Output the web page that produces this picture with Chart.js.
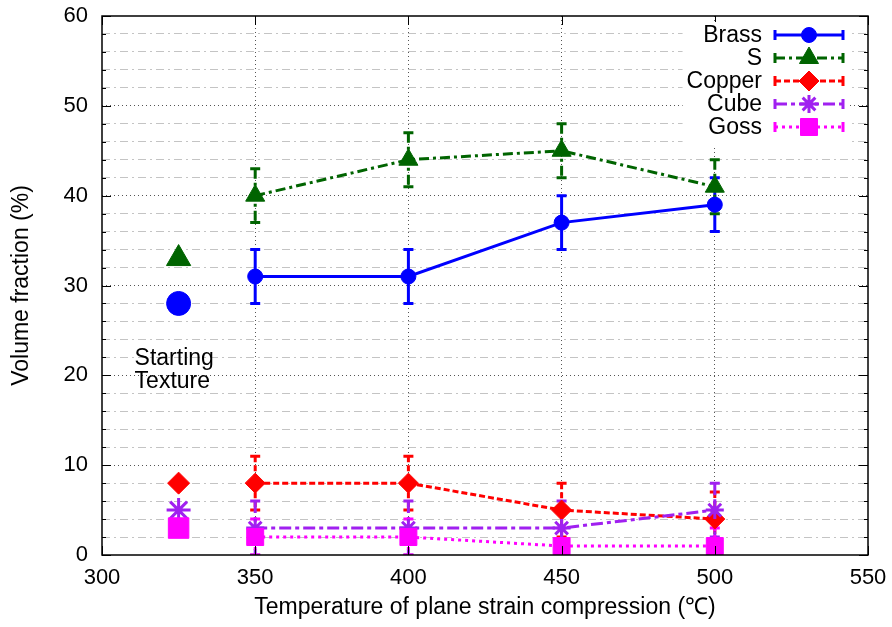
<!DOCTYPE html>
<html>
<head>
<meta charset="utf-8">
<script src="https://cdn.jsdelivr.net/npm/chart.js@4.4.1/dist/chart.umd.min.js"></script>
<style>
  html, body { margin: 0; padding: 0; background: #fff; }
</style>
</head>
<body>
<canvas id="chart" width="892" height="627"></canvas>
<script>
// --- data ---
const temps = [350, 400, 450, 500];
const startTemp = 325;
const seriesNames = ['Brass', 'S', 'Copper', 'Cube', 'Goss'];

const brass = [31, 31, 37, 39];
const sComp = [40, 44, 45, 41];
const copper = [8, 8, 5, 4];
const cube = [3, 3, 3, 5];
const goss = [2, 2, 1, 1];

const brassErr = [3, 3, 3, 3];
const sErr = [3, 3, 3, 3];
const copperErr = [3, 3, 3, 3];
const cubeErr = [3, 3, 3, 3];
const gossErr = [2, 2, 2, 2];

// starting texture, same order as seriesNames
const startValues = [28, 33, 8, 5, 3];

const xTicks = [300, 350, 400, 450, 500, 550];
const yMajorStep = 10;
const yMinorStep = 2;

// --- styles ---
const FONT = "'Liberation Sans', Arial, Helvetica, sans-serif";
const FS = 22;   // tick labels
const FT = 23;   // titles, key, note
const styles = [
    { color: '#0000ff', dash: [], point: 'circle', r: 7.5, rStart: 12, bw: 1 },
    { color: '#006400', dash: [10, 4, 3, 4], point: 'triangle', r: 11, rStart: 14, bw: 1 },
    { color: '#ff0000', dash: [6, 3], point: 'rectRot', r: 10, rStart: 11, bw: 1 },
    { color: '#a020f0', dash: [12, 4, 4, 4], point: 'star', r: 9, rStart: 12, bw: 3 },
    { color: '#ff00ff', dash: [3, 4], point: 'rect', r: 12, rStart: 14.5, bw: 1 }
];
const seriesValues = [brass, sComp, copper, cube, goss];
const seriesErrors = [brassErr, sErr, copperErr, cubeErr, gossErr];

const datasets = [];
seriesNames.forEach((name, i) => {
    const st = styles[i];
    datasets.push({
        label: name,
        data: temps.map((t, j) => ({ x: t, y: seriesValues[i][j] })),
        errors: seriesErrors[i],
        borderColor: st.color,
        backgroundColor: st.color,
        borderWidth: 3,
        borderDash: st.dash,
        tension: 0,
        pointStyle: st.point,
        pointRadius: st.r,
        pointBackgroundColor: st.color,
        pointBorderColor: st.color,
        pointBorderWidth: st.bw,
        order: 5 - i
    });
    datasets.push({
        label: name + ' (start)',
        data: [{ x: startTemp, y: startValues[i] }],
        showLine: false,
        pointStyle: st.point,
        pointRadius: st.rStart,
        pointBackgroundColor: st.color,
        pointBorderColor: st.color,
        pointBorderWidth: st.bw,
        order: 5 - i
    });
});

const clear = 'rgba(0,0,0,0)';

// vertical error bars with caps, drawn under the markers
const errorBars = {
    id: 'errorBars',
    beforeDatasetsDraw(chart) {
        const { ctx, chartArea, scales: { x, y } } = chart;
        ctx.save();
        ctx.beginPath();
        ctx.rect(chartArea.left, chartArea.top, chartArea.width, chartArea.height);
        ctx.clip();
        chart.data.datasets.forEach(ds => {
            if (!ds.errors) return;
            ctx.strokeStyle = ds.borderColor;
            ctx.lineWidth = 3;
            ds.data.forEach((p, i) => {
                const px = x.getPixelForValue(p.x);
                const top = y.getPixelForValue(p.y + ds.errors[i]);
                const bot = y.getPixelForValue(p.y - ds.errors[i]);
                ctx.setLineDash(ds.borderDash);
                ctx.beginPath();
                ctx.moveTo(px, top);
                ctx.lineTo(px, bot);
                ctx.stroke();
                ctx.setLineDash([]);
                ctx.beginPath();
                ctx.moveTo(px - 5, top); ctx.lineTo(px + 5, top);
                ctx.moveTo(px - 5, bot); ctx.lineTo(px + 5, bot);
                ctx.stroke();
            });
        });
        ctx.restore();
    }
};

// plot frame, inward ticks and the "Starting Texture" note
const frame = {
    id: 'frame',
    afterDatasetsDraw(chart) {
        const { ctx, chartArea: a, scales: { x, y } } = chart;
        ctx.save();
        ctx.strokeStyle = '#000';
        ctx.lineWidth = 1;
        ctx.setLineDash([]);
        ctx.beginPath();
        for (let v = 0; v <= 60; v += yMinorStep) {
            const py = Math.round(y.getPixelForValue(v)) + 0.5;
            const len = v % yMajorStep === 0 ? 9 : 4;
            ctx.moveTo(a.left, py); ctx.lineTo(a.left + len, py);
            ctx.moveTo(a.right, py); ctx.lineTo(a.right - len, py);
        }
        xTicks.forEach(t => {
            const px = Math.round(x.getPixelForValue(t)) + 0.5;
            ctx.moveTo(px, a.bottom); ctx.lineTo(px, a.bottom - 9);
            ctx.moveTo(px, a.top); ctx.lineTo(px, a.top + 9);
        });
        ctx.stroke();
        ctx.lineWidth = 1.5;
        ctx.strokeRect(a.left, a.top, a.right - a.left, a.bottom - a.top);

        ctx.fillStyle = '#000';
        ctx.font = FT + 'px ' + FONT;
        ctx.textAlign = 'left';
        ctx.textBaseline = 'alphabetic';
        const tx = x.getPixelForValue(startTemp) - 44;
        const ty = y.getPixelForValue(21.2);
        ctx.fillText('Starting', tx, ty);
        ctx.fillText('Texture', tx, ty + 23);
        ctx.restore();
    }
};

// gnuplot-like key: text on the left, line sample with marker and caps on the right
const key = {
    id: 'key',
    afterDraw(chart) {
        const { ctx, chartArea: a } = chart;
        ctx.save();
        ctx.font = FT + 'px ' + FONT;
        const textRight = a.right - 106;
        const x0 = a.right - 93, x1 = a.right - 25, xm = (x0 + x1) / 2;
        const rowTop = a.top + 19, rowH = 23;
        const widest = Math.max(...seriesNames.map(n => ctx.measureText(n).width));
        const boxLeft = textRight - widest - 4;
        ctx.fillStyle = '#fff';
        ctx.fillRect(boxLeft, a.top + 6, a.right - 20 - boxLeft, rowH * seriesNames.length + 8);
        seriesNames.forEach((name, i) => {
            const st = styles[i];
            const yy = rowTop + i * rowH;
            ctx.fillStyle = '#000';
            ctx.textAlign = 'right';
            ctx.textBaseline = 'middle';
            ctx.fillText(name, textRight, yy + 1);
            ctx.strokeStyle = st.color;
            ctx.fillStyle = st.color;
            ctx.lineWidth = 3;
            ctx.setLineDash(st.dash);
            ctx.beginPath();
            ctx.moveTo(x0, yy); ctx.lineTo(x1, yy);
            ctx.stroke();
            ctx.setLineDash([]);
            ctx.beginPath();
            ctx.moveTo(x0, yy - 5); ctx.lineTo(x0, yy + 5);
            ctx.moveTo(x1, yy - 5); ctx.lineTo(x1, yy + 5);
            ctx.stroke();
            ctx.lineWidth = st.bw;
            Chart.helpers.drawPoint(ctx, { pointStyle: st.point, radius: st.r, rotation: 0, borderWidth: st.bw }, xm, yy);
        });
        ctx.restore();
    }
};

// pin the plot box: no automatic room for half tick labels
const noPadV = s => { s.paddingTop = 0; s.paddingBottom = 0; };

new Chart(document.getElementById('chart'), {
    type: 'line',
    data: { datasets: datasets },
    options: {
        responsive: false,
        animation: false,
        layout: { padding: { top: 16, right: 24, left: 0, bottom: 0 } },
        plugins: {
            legend: { display: false },
            tooltip: { enabled: false }
        },
        scales: {
            x: {
                type: 'linear',
                min: xTicks[0],
                max: xTicks[xTicks.length - 1],
                afterBuildTicks: s => { s.ticks = xTicks.map(v => ({ value: v })); },
                ticks: { color: '#000', font: { family: FONT, size: FS }, padding: 10, maxRotation: 0 },
                grid: {
                    color: c => (c.tick && (c.tick.value === 300 || c.tick.value === 550)) ? clear : '#555',
                    lineWidth: 1,
                    drawTicks: false
                },
                border: { display: false, dash: [1, 3] },
                title: {
                    display: true,
                    text: 'Temperature of plane strain compression (℃)',
                    color: '#000',
                    font: { family: FONT, size: FT },
                    padding: { top: 0, bottom: 6 }
                },
                afterFit: s => { s.height = 72; s.paddingLeft = 0; s.paddingRight = 0; }
            },
            y: {
                min: 0,
                max: 60,
                ticks: { stepSize: yMajorStep, color: '#000', font: { family: FONT, size: FS }, padding: 14 },
                grid: {
                    color: c => (c.tick && (c.tick.value === 0 || c.tick.value === 60)) ? clear : '#555',
                    lineWidth: 1,
                    drawTicks: false
                },
                border: { display: false, dash: [1, 3] },
                title: {
                    display: true,
                    text: 'Volume fraction (%)',
                    color: '#000',
                    font: { family: FONT, size: FT },
                    padding: { top: 8, bottom: 0 }
                },
                afterFit: s => { s.width = 102; noPadV(s); }
            },
            yMinor: {
                position: 'right',
                min: 0,
                max: 60,
                ticks: { display: false, stepSize: yMinorStep },
                grid: {
                    color: c => (c.tick && c.tick.value % yMajorStep === 0) ? clear : '#c4c4c4',
                    lineWidth: 1,
                    drawTicks: false
                },
                border: { display: false, dash: [8, 4, 2, 4] },
                afterFit: s => { s.width = 0; noPadV(s); }
            }
        }
    },
    plugins: [errorBars, frame, key]
});
</script>
</body>
</html>
